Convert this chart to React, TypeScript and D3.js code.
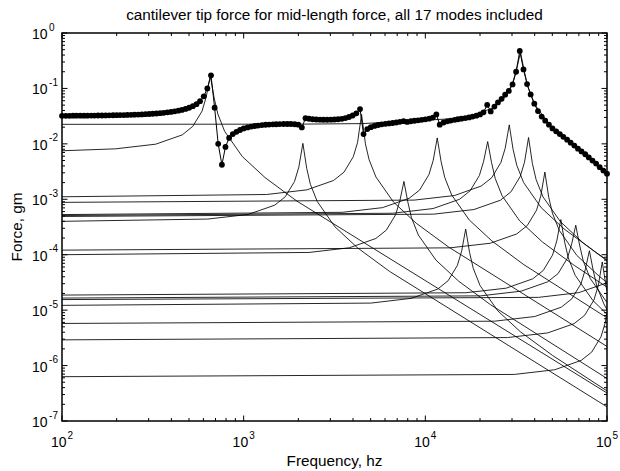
import React from 'react';
import * as d3 from 'd3';

// ---------- data ----------
const titleText = 'cantilever tip force for mid-length force, all 17 modes included';
const xLabel = 'Frequency, hz';
const yLabel = 'Force, gm';

const xDomain = [1e2, 1e5];
const yDomain = [1e-7, 1];

// total response (dotted curve): frequencies (hz) and force (gm)
const sumFreq = [
  100, 105, 110, 115, 120, 126, 132, 138, 145, 151, 158, 166, 174, 182, 191, 200, 209, 219, 229, 240,
  251, 263, 275, 288, 302, 316, 331, 347, 363, 380, 398, 417, 437, 457, 479, 501, 525, 550, 575, 603,
  631, 661, 692, 724, 759, 794, 832, 871, 912, 955,
  1000, 1050, 1100, 1150, 1200, 1260, 1320, 1380, 1450, 1510, 1580, 1660, 1740, 1820, 1910, 2000, 2090, 2190, 2290, 2400,
  2510, 2630, 2750, 2880, 3020, 3160, 3310, 3470, 3630, 3800, 3980, 4170, 4370, 4570, 4790, 5010, 5250, 5500, 5750, 6030,
  6310, 6610, 6920, 7240, 7590, 7940, 8320, 8710, 9120, 9550,
  10000, 10500, 11000, 11500, 12000, 12600, 13200, 13800, 14500, 15100, 15800, 16600, 17400, 18200, 19100, 20000, 20900, 21900, 22900, 24000,
  25100, 26300, 27500, 28800, 30200, 31600, 33100, 34700, 36300, 38000, 39800, 41700, 43700, 45700, 47900, 50100, 52500, 55000, 57500, 60300,
  63100, 66100, 69200, 72400, 75900, 79400, 83200, 87100, 91200, 95500, 100000,
];
const sumForce = [
  0.0321, 0.0321, 0.0321, 0.0322, 0.0322, 0.0322, 0.0323, 0.0323, 0.0324, 0.0324,
  0.0325, 0.0325, 0.0326, 0.0327, 0.0328, 0.0329, 0.0330, 0.0331, 0.0332, 0.0334,
  0.0336, 0.0338, 0.0340, 0.0343, 0.0346, 0.0349, 0.0353, 0.0358, 0.0363, 0.0370,
  0.0377, 0.0386, 0.0397, 0.0410, 0.0427, 0.0448, 0.0478, 0.0520, 0.0590, 0.0720,
  0.1000, 0.1720, 0.0450, 0.0100, 0.0042, 0.0088, 0.0128, 0.0150, 0.0165, 0.0178,
  0.0190, 0.0198, 0.0205, 0.0210, 0.0214, 0.0218, 0.0221, 0.0223, 0.0225, 0.0226,
  0.0227, 0.0228, 0.0228, 0.0228, 0.0226, 0.0222, 0.0198, 0.0290, 0.0284, 0.0278,
  0.0275, 0.0273, 0.0272, 0.0272, 0.0273, 0.0275, 0.0278, 0.0283, 0.0292, 0.0305,
  0.0325, 0.0355, 0.0425, 0.0150, 0.0185, 0.0200, 0.0211, 0.0219, 0.0225, 0.0230,
  0.0234, 0.0238, 0.0243, 0.0250, 0.0257, 0.0249, 0.0256, 0.0261, 0.0266, 0.0271,
  0.0277, 0.0285, 0.0298, 0.0340, 0.0222, 0.0243, 0.0255, 0.0263, 0.0271, 0.0278,
  0.0285, 0.0292, 0.0300, 0.0310, 0.0323, 0.0340, 0.0370, 0.0505, 0.0385, 0.0470,
  0.0560, 0.0650, 0.0770, 0.0900, 0.1180, 0.2000, 0.4750, 0.2200, 0.1200, 0.0780,
  0.0530, 0.0390, 0.0310, 0.0262, 0.0222, 0.0190, 0.0168, 0.0150, 0.0134, 0.0119,
  0.0105, 0.0093, 0.0082, 0.0073, 0.0065, 0.0057, 0.0050, 0.0044, 0.0038, 0.0033, 0.0029,
];

// individual modal contributions: [frequency hz, force gm]
const mode1 = [[100, 0.0075], [197, 0.00813], [328, 0.00987], [459, 0.0145], [524, 0.0206], [590, 0.0389], [622, 0.07], [655, 0.17], [688, 0.067], [721, 0.0345], [786, 0.0168], [983, 0.0059], [1310, 0.00247], [1965, 0.000925], [100000, 3.2e-7]];
const mode2 = [[100, 0.0004], [635, 0.00044], [1059, 0.000533], [1483, 0.000784], [1694, 0.00111], [1906, 0.0021], [2012, 0.0038], [2118, 0.0102], [2224, 0.0036], [2330, 0.00186], [2542, 0.00091], [3177, 0.00032], [4236, 0.000133], [6354, 0.00005], [100000, 1.8e-7]];
const mode3 = [[100, 0.00111], [1337, 0.00122], [2229, 0.00148], [3120, 0.00218], [3566, 0.00308], [4011, 0.00584], [4234, 0.0105], [4457, 0.034], [4680, 0.01], [4903, 0.00517], [5348, 0.00252], [6686, 0.000888], [8914, 0.00037], [13371, 0.000139], [100000, 2.21e-6]];
const mode4 = [[100, 1.0e-4], [2288, 1.099e-4], [3813, 1.333e-4], [5338, 1.961e-4], [6100, 2.778e-4], [6863, 5.26e-4], [7244, 9.5e-4], [7625, 0.0021], [8006, 9.0e-4], [8388, 4.66e-4], [9150, 2.27e-4], [11438, 8.0e-5], [15250, 3.33e-5], [22875, 1.25e-5], [100000, 5.85e-7]];
const mode5 = [[100, 0.00053], [3489, 0.000582], [5815, 0.000707], [8141, 0.00104], [9304, 0.00147], [10467, 0.00279], [11049, 0.00504], [11630, 0.0128], [12212, 0.00477], [12793, 0.00247], [13956, 0.0012], [17445, 0.000424], [23260, 0.000177], [34890, 6.6e-5], [100000, 7.27e-6]];
const mode6 = [[100, 1.22e-5], [5004, 1.34e-5], [8340, 1.63e-5], [11676, 2.39e-5], [13344, 3.39e-5], [15012, 6.42e-5], [15846, 1.16e-4], [16680, 2.9e-4], [17514, 1.1e-4], [18348, 5.69e-5], [20016, 2.77e-5], [25020, 9.76e-6], [33360, 4.07e-6], [50040, 1.53e-6], [100000, 3.49e-7]];
const mode7 = [[100, 0.00051], [6612, 0.00056], [11020, 0.00068], [15428, 0.001], [17632, 0.00142], [19836, 0.00268], [20938, 0.00485], [22040, 0.011], [23142, 0.00459], [24244, 0.00238], [26448, 0.00116], [33060, 0.000408], [44080, 0.00017], [66120, 6.4e-5], [100000, 2.6e-5]];
const mode8 = [[100, 0.00088], [8691, 0.000967], [14485, 0.00117], [20279, 0.00173], [23176, 0.00244], [26073, 0.00463], [27522, 0.00836], [28970, 0.022], [30419, 0.00792], [31867, 0.0041], [34764, 0.002], [43455, 0.000704], [57940, 0.000293], [86910, 0.00011], [100000, 8.06e-5]];
const mode9 = [[100, 0.0225], [2100, 0.0227], [4500, 0.0232], [10020, 0.0268], [16700, 0.0292], [23380, 0.0441], [26720, 0.0625], [30060, 0.118], [31730, 0.214], [33400, 0.45], [35070, 0.203], [36740, 0.105], [40080, 0.051], [50100, 0.0188], [66800, 0.0089], [100000, 0.0029]];
const mode10 = [[100, 0.00049], [11100, 0.000539], [18500, 0.000653], [25900, 0.000961], [29600, 0.00136], [33300, 0.00258], [35150, 0.00466], [37000, 0.013], [38850, 0.00441], [40700, 0.00228], [44400, 0.00111], [55500, 0.000392], [74000, 0.000163], [100000, 7.77e-5]];
const mode11 = [[100, 1.21e-4], [13650, 1.33e-4], [22750, 1.61e-4], [31850, 2.37e-4], [36400, 3.36e-4], [40950, 6.36e-4], [43225, 1.15e-3], [45500, 0.0031], [47775, 1.09e-3], [50050, 5.64e-4], [54600, 2.75e-4], [68250, 9.68e-5], [91000, 4.03e-5], [100000, 3.16e-5]];
const mode12 = [[100, 1.87e-5], [16710, 2.06e-5], [27850, 2.49e-5], [38990, 3.67e-5], [44560, 5.19e-5], [50130, 9.84e-5], [52915, 1.78e-4], [55700, 4.3e-4], [58485, 1.68e-4], [61270, 8.71e-5], [66840, 4.24e-5], [83550, 1.5e-5], [100000, 8.41e-6]];
const mode13 = [[100, 1.65e-5], [20190, 1.81e-5], [33650, 2.2e-5], [47110, 3.24e-5], [53840, 4.58e-5], [60570, 8.68e-5], [63935, 1.57e-4], [67300, 3.4e-4], [70665, 1.49e-4], [74030, 7.69e-5], [80760, 3.75e-5], [100000, 1.37e-5]];
const mode14 = [[100, 5.75e-6], [24000, 6.32e-6], [40000, 7.67e-6], [56000, 1.13e-5], [64000, 1.6e-5], [72000, 3.02e-5], [76000, 5.46e-5], [80000, 1.18e-4], [84000, 5.18e-5], [88000, 2.68e-5], [96000, 1.31e-5], [100000, 1.02e-5]];
const mode15 = [[100, 2.91e-6], [28260, 3.2e-6], [47100, 3.88e-6], [65940, 5.71e-6], [75360, 8.08e-6], [84780, 1.53e-5], [89490, 2.76e-5], [94200, 7.4e-5], [98910, 2.62e-5], [100000, 2.27e-5]];
const mode16 = [[100, 6.3e-7], [30900, 6.92e-7], [51500, 8.4e-7], [72100, 1.24e-6], [82400, 1.75e-6], [92700, 3.31e-6], [97850, 5.99e-6], [100000, 9.1e-6]];
const mode17 = [[100, 1.55e-5], [42000, 1.7e-5], [70000, 2.07e-5], [98000, 3.04e-5], [100000, 3.16e-5]];

const modeCurves = [mode1, mode2, mode3, mode4, mode5, mode6, mode7, mode8, mode9, mode10, mode11, mode12, mode13, mode14, mode15, mode16, mode17];

// ---------- layout ----------
const W = 620;
const H = 471;
const PL = 62;
const PR = 607;
const PT = 33;
const PB = 421;
const FONT = "'Liberation Sans', Arial, Helvetica, sans-serif";

export default function App() {
  const x = d3.scaleLog().domain(xDomain).range([PL, PR]);
  const y = d3.scaleLog().domain(yDomain).range([PB, PT]);
  const line = d3
    .line<number[]>()
    .x((d) => x(d[0]))
    .y((d) => y(d[1]));

  const sumPts = sumFreq.map((f, i) => [f, sumForce[i]]);

  const isMajor = (v: number) => Math.abs(Math.log10(v) - Math.round(Math.log10(v))) < 1e-9;
  const xt = x.ticks();
  const yt = y.ticks();
  const MAJ = 5.5;
  const MIN = 3;

  return (
    <svg
      width={W}
      height={H}
      style={{ position: 'absolute', left: 0, top: 0, background: '#fff' }}
      fontFamily={FONT}
    >
      <rect x={0} y={0} width={W} height={H} fill="#fff" />
      <defs>
        <clipPath id="plotArea">
          <rect x={PL} y={PT} width={PR - PL} height={PB - PT} />
        </clipPath>
      </defs>

      <g clipPath="url(#plotArea)">
        {modeCurves.map((m, i) => (
          <path key={i} d={line(m) || ''} fill="none" stroke="#000" strokeWidth={0.85} />
        ))}
        <path d={line(sumPts) || ''} fill="none" stroke="#000" strokeWidth={1} />
      </g>
      {sumPts.map((p, i) => (
        <circle key={i} cx={x(p[0])} cy={y(p[1])} r={2.9} fill="#000" />
      ))}

      {/* ticks */}
      <g stroke="#000" strokeWidth={1}>
        {xt.map((v, i) => {
          const len = isMajor(v) ? MAJ : MIN;
          const px = x(v);
          return (
            <g key={'xt' + i}>
              <line x1={px} x2={px} y1={PB} y2={PB - len} />
              <line x1={px} x2={px} y1={PT} y2={PT + len} />
            </g>
          );
        })}
        {yt.map((v, i) => {
          const len = isMajor(v) ? MAJ : MIN;
          const py = y(v);
          return (
            <g key={'yt' + i}>
              <line x1={PL} x2={PL + len} y1={py} y2={py} />
              <line x1={PR} x2={PR - len} y1={py} y2={py} />
            </g>
          );
        })}
      </g>

      <rect x={PL} y={PT} width={PR - PL} height={PB - PT} fill="none" stroke="#000" strokeWidth={1.5} />

      {/* x tick labels */}
      {xt.filter(isMajor).map((v, i) => (
        <text key={'xl' + i} x={x(v)} y={447} textAnchor="middle" fontSize={14} fill="#000">
          <tspan>10</tspan>
          <tspan dx={1} dy={-8.5} fontSize={10}>{String(Math.round(Math.log10(v)))}</tspan>
        </text>
      ))}
      {/* y tick labels */}
      {yt.filter(isMajor).map((v, i) => (
        <text key={'yl' + i} x={32} y={y(v) + 6} textAnchor="start" fontSize={14} fill="#000">
          <tspan>10</tspan>
          <tspan dx={1.5} dy={-8.5} fontSize={10}>{String(Math.round(Math.log10(v)))}</tspan>
        </text>
      ))}

      <text x={(PL + PR) / 2} y={20} textAnchor="middle" fontSize={15.3} fill="#000">
        {titleText}
      </text>
      <text x={(PL + PR) / 2} y={466} textAnchor="middle" fontSize={15.3} fill="#000">
        {xLabel}
      </text>
      <text transform={`translate(22,${(PT + PB) / 2}) rotate(-90)`} textAnchor="middle" fontSize={15.3} fill="#000">
        {yLabel}
      </text>
    </svg>
  );
}
